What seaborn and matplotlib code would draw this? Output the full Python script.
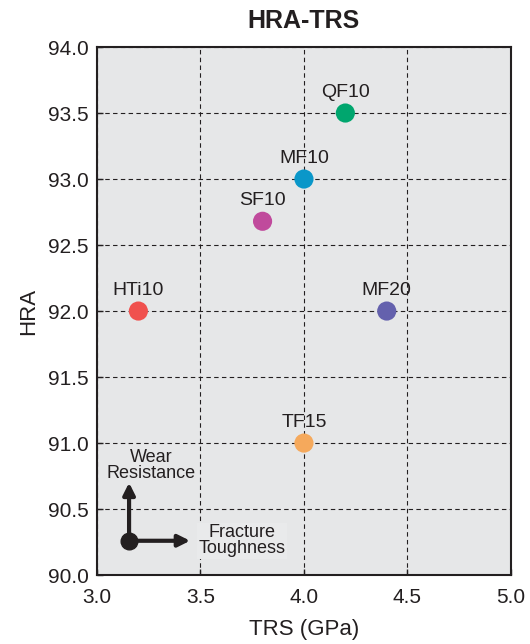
import pandas as pd
from matplotlib import pyplot as plt
import seaborn as sns

# Sample names, TRS (GPa) and HRA hardness
samples = ['QF10', 'MF10', 'SF10', 'HTi10', 'MF20', 'TF15']
trs = [4.2, 4.0, 3.8, 3.2, 4.4, 4.0]
hra = [93.5, 93.0, 92.68, 92.0, 92.0, 91.0]
colors = ['#00a66e', '#0a97c9', '#c04a9c', '#f0514e', '#6461ad', '#f5a95c']

xticks = [3.0, 3.5, 4.0, 4.5, 5.0]
yticks = [90.0, 90.5, 91.0, 91.5, 92.0, 92.5, 93.0, 93.5, 94.0]

df = pd.DataFrame({'sample': samples, 'TRS': trs, 'HRA': hra})

sns.set_style('ticks')
plt.rcParams['font.family'] = ['Liberation Sans', 'DejaVu Sans']

fig = plt.figure(figsize=(5.3, 6.44), dpi=100)
ax = fig.add_axes([0.183, 0.107, 0.781, 0.82])
ax.set_facecolor('#e6e7e8')

sns.scatterplot(data=df, x='TRS', y='HRA', hue='sample', palette=colors,
                s=190, edgecolor='none', legend=False, ax=ax, zorder=3)

# Sample labels above each point
for name, x, y in zip(samples, trs, hra):
    ax.text(x, y + 0.09, name, ha='center', va='bottom', fontsize=14, color='#231f20')

ax.set_xlim(3.0, 5.0)
ax.set_ylim(90.0, 94.0)
ax.set_xticks(xticks)
ax.set_yticks(yticks)
ax.set_xticklabels([f'{v:.1f}' for v in xticks])
ax.set_yticklabels([f'{v:.1f}' for v in yticks])
ax.tick_params(direction='in', length=4, width=1, labelsize=15, colors='#231f20', pad=6)
ax.tick_params(axis='x', pad=9)
ax.grid(True, color='#231f20', linestyle=(0, (4, 3)), linewidth=0.8)
ax.set_axisbelow(True)
for sp in ax.spines.values():
    sp.set_linewidth(1.5)
    sp.set_color('#231f20')

ax.set_xlabel('TRS (GPa)', fontsize=16, color='#231f20', labelpad=9)
ax.set_ylabel('HRA', fontsize=16, color='#231f20', labelpad=6)
ax.set_title('HRA-TRS', fontsize=18, fontweight='bold', color='#231f20', pad=14)

# Direction guide in the lower-left corner
ox, oy = 3.155, 90.26
arrow = dict(arrowstyle='-|>,head_width=0.35,head_length=0.7', color='#231f20', lw=3,
             shrinkA=0, shrinkB=0)
ax.annotate('', xy=(ox, 90.7), xytext=(ox, oy), arrowprops=arrow)
ax.annotate('', xy=(3.45, oy), xytext=(ox, oy), arrowprops=arrow)
ax.plot([ox], [oy], 'o', color='#231f20', markersize=12, zorder=4)
ax.text(3.26, 90.83, 'Wear\nResistance', ha='center', va='center', fontsize=13,
        color='#231f20', linespacing=0.9)
ax.text(3.7, 90.26, 'Fracture\nToughness', ha='center', va='center', fontsize=13,
        color='#231f20', linespacing=0.9,
        bbox=dict(facecolor='#e9eaeb', edgecolor='none', pad=1))

plt.savefig('out.png', dpi=100)
